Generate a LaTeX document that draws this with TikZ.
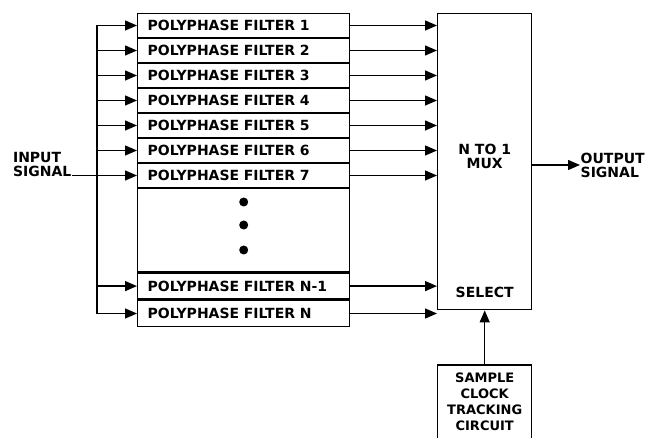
\documentclass[tikz,border=0pt]{standalone}
\usepackage{fontspec}
\setmainfont{DejaVu Sans}
\usetikzlibrary{arrows.meta,positioning}

\begin{document}
\begin{tikzpicture}[x=1pt,y=-1pt,line width=1.4pt,>={Triangle[length=12pt,width=10pt]},
font=\fontsize{14}{14}\selectfont\bfseries,
box/.style={draw,align=center,inner sep=0pt},
filt/.style={box,minimum width=212pt,minimum height=23.6pt,text width=192pt,align=left},
lbl/.style={align=left,inner sep=0pt}]
\useasboundingbox (0,0) rectangle (650,438);
% filter bank
\node[filt,anchor=north west] (f1) at (137,13) {POLYPHASE FILTER 1};
\foreach \i [remember=\i as \j (initially 1)] in {2,...,7}
  \node[filt,below=0pt of f\j] (f\i) {POLYPHASE FILTER \i};
\node[filt,minimum height=83pt,below=0pt of f7] (dots) {};
\node[filt,minimum height=26pt,below=0pt of dots] (fN1) {POLYPHASE FILTER N-1};
\node[filt,minimum height=26pt,below=0pt of fN1] (fN) {POLYPHASE FILTER N};
\foreach \d in {14,37,62}
  \fill ([yshift=-\d pt]dots.north) circle (4.5pt);
% mux and clock
\node[box,minimum width=94pt,minimum height=296pt,anchor=north west] (mux) at (437,13) {};
\node[align=center] at ([yshift=5pt]mux.center) {N TO 1\\MUX};
\node at ([yshift=18pt]mux.south) {SELECT};
\node[box,minimum width=94pt,minimum height=74pt,below=54pt of mux,
  font=\fontsize{13}{16}\selectfont\bfseries] (clk) {SAMPLE\\CLOCK\\TRACKING\\CIRCUIT};
% input side
\coordinate (bus) at (97,0);
\node[lbl,anchor=east] (in) at (72,164) {INPUT\\SIGNAL};
\draw (in.east |- f7.west) -- (bus |- f7.west);
\draw (bus |- f1.west) -- (bus |- fN.west);
\foreach \n in {f1,f2,f3,f4,f5,f6,f7,fN1,fN} {
  \draw[->] (bus |- \n.west) -- (\n.west);
  \draw[->] (\n.east) -- (\n.east -| mux.west);
}
% output side
\node[lbl,anchor=west] (out) at (580,165) {OUTPUT\\SIGNAL};
\draw[->] (mux.east |- out.west) -- (out.west);
\draw[->] (clk) -- (mux);
\end{tikzpicture}
\end{document}
